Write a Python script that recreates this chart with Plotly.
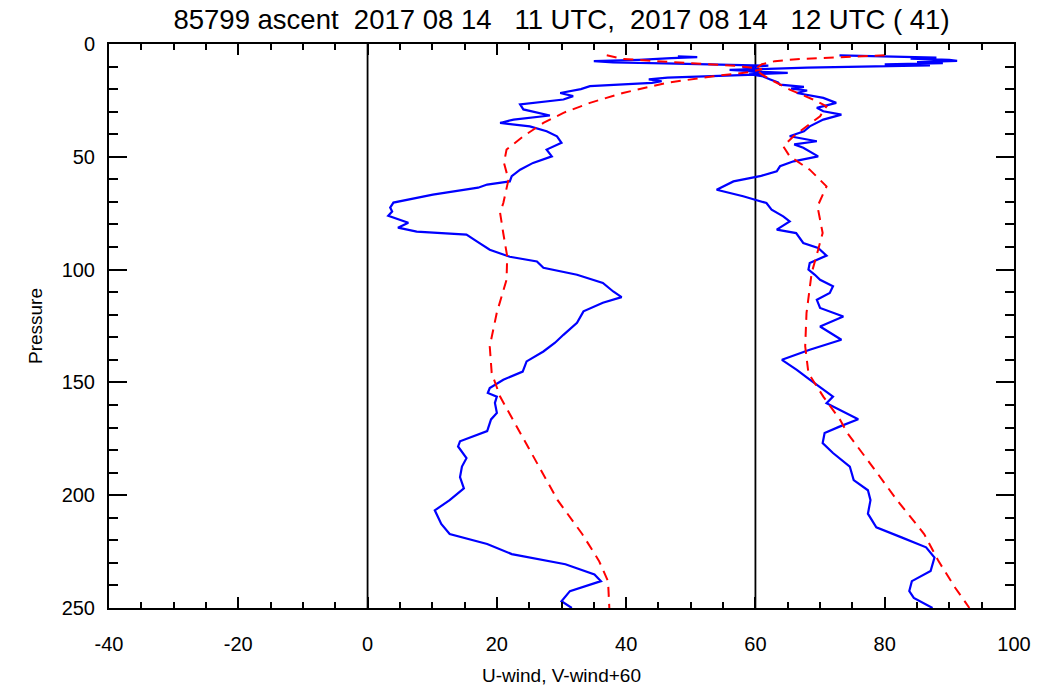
import plotly.graph_objects as go

V_OFFSET = 60
REF_LINES = [0, 60]

TITLE = "85799 ascent\u00a0\u00a02017 08 14\u00a0\u00a0\u00a011 UTC,\u00a0\u00a02017 08 14\u00a0\u00a0\u00a012 UTC ( 41)"
X_TITLE = "U-wind, V-wind+60"
Y_TITLE = "Pressure"

x_tickvals = [-40, -20, 0, 20, 40, 60, 80, 100]
x_ticktext = ["-40", "-20", "0", "20", "40", "60", "80", "100"]
y_tickvals = [0, 50, 100, 150, 200, 250]
y_ticktext = ["0", "50", "100", "150", "200", "250"]

# Observed U-wind (blue, solid)
u_obs_p = [5.5, 5.8, 6.3, 7.0, 7.6, 8.2, 8.6, 9.1, 9.6, 10.4, 11.2, 12.0, 12.8, 13.6, 14.3, 14.9,
           15.7, 16.5, 17.2, 18.7, 20.0, 21.7, 23.1, 24.6, 26.8, 29.0, 31.7, 33.5, 35.0, 36.5, 38.7,
           40.9, 43.8, 46.8, 49.8, 52.7, 55.7, 58.6, 60.9, 62.3, 63.7, 66.8, 70.3, 72.5, 74.3, 76.1,
           79.2, 81.4, 83.2, 84.5, 87.5, 91.2, 94.3, 96.4, 99.2, 102.3, 105.9, 109.7, 112.2, 114.7,
           118.5, 123.6, 128.9, 132.4, 136.3, 140.7, 145.2, 148.8, 152.5, 154.7, 156.3, 159.1, 163.5,
           166.4, 171.6, 176.1, 178.4, 183.6, 187.3, 192.0, 197.0, 202.2, 206.7, 212.7, 217.2, 221.6,
           226.1, 230.6, 235.1, 238.1, 242.5, 247.0, 250.0]
u_obs = [48, 51, 47, 42, 35, 38, 46, 55, 62, 58, 61, 59, 61, 60, 53, 46.4,
         43.5, 45.5, 44, 34.4, 33, 29.8, 31.8, 30.3, 23.6, 24.1, 28.2, 22.6, 20.5, 25.1, 27.7,
         29.3, 30.0, 27.7, 28.5, 25.6, 23.6, 22.3, 22.0, 18.5, 17.1, 10.1, 4.0, 3.5, 3.8, 3.2,
         6.3, 4.7, 7.6, 15.3, 16.9, 18.9, 22.0, 26.2, 27.2, 32.4, 36.4, 38.0, 39.3, 36.4,
         33.4, 32.4, 30.3, 29.0, 27.2, 24.6, 24.0, 21.0, 18.9, 18.6, 20.0, 19.7, 20.0,
         19.1, 18.5, 14.3, 14.0, 15.3, 14.6, 14.3, 14.9, 12.7, 10.4, 11.4, 12.7, 18.5,
         22.3, 30.6, 35.1, 36.1, 31.3, 30.0, 31.6]

# Observed V-wind (blue, solid), plotted with +60 offset
v_obs_p = [5.0, 5.5, 6.0, 6.5, 7.0, 7.5, 8.0, 8.5, 9.0, 9.5, 10.0, 10.5, 11.0, 11.5, 12.2, 12.8,
           13.4, 14.2, 15.7, 17.0, 18.0, 19.0, 19.8, 20.6, 21.7, 23.9, 26.1, 28.3, 29.8, 31.3,
           33.5, 36.5, 38.7, 40.9, 43.1, 44.5, 46.0, 49.8, 52.0, 54.2, 56.4, 58.6, 60.9, 64.6,
           67.5, 70.5, 73.4, 76.4, 78.6, 82.3, 83.8, 88.2, 90.4, 93.8, 97.1, 100.0, 102.3, 104.5,
           107.4, 110.4, 113.4, 117.0, 120.8, 125.2, 131.1, 135.5, 140.0, 144.4, 148.8, 154.7,
           156.3, 159.2, 162.2, 166.3, 169.6, 172.4, 176.9, 181.3, 187.3, 193.3, 197.8, 202.2,
           208.2, 214.2, 218.7, 223.1, 227.6, 233.6, 238.1, 242.5, 245.5, 250.0]
v_obs = [13, 20, 28, 24, 30, 31.2, 25, 29, 20, 27, 16, 8, 2, -4, 0, 5,
         -1, 1, 2.3, 3.5, 3.8, 7.5, 5.5, 8.0, 6.4, 10.5, 12.5, 9.5, 10.5, 13.3,
         10.5, 8.4, 7.5, 5.3, 9.5, 6.0, 7.4, 9.7, 5.9, 3.8, 3.3, 0.7, -3.4, -6.0,
         -1.9, 1.7, 2.5, 4.3, 5.3, 3.3, 6.3, 7.4, 9.7, 11.0, 8.4, 8.2, 9.2, 10.0,
         12.0, 11.5, 9.5, 10.0, 13.6, 10.0, 13.3, 8.4, 4.1, 6.4, 8.4, 11.3,
         12.0, 11.0, 13.1, 15.9, 13.0, 10.7, 10.4, 12.0, 14.6, 15.2, 17.4, 17.8,
         17.4, 18.7, 22.6, 26.4, 27.7, 27.1, 24.2, 23.8, 24.5, 27.4]

# Model U-wind (red, dashed)
u_mod_p = [5.0, 6.6, 8.0, 9.8, 11.2, 12.5, 14.3, 17.2, 21.7, 26.1, 30.5, 35.0, 40.9, 46.8, 52.7,
           60.1, 70.5, 74.8, 84.0, 94.1, 104.5, 119.0, 134.0, 145.8, 156.3, 168.0, 172.4, 187.3,
           202.2, 217.2, 229.1, 238.1, 250.0]
u_mod = [37, 39.5, 47, 57.6, 61, 59, 53.5, 46.3, 39.5, 34.4, 30.3, 27.2, 24.1, 21.5, 21.1,
         21.8, 21.0, 20.5, 21.0, 21.6, 21.5, 20.0, 18.9, 19.2, 20.5, 22.8, 23.6, 26.5,
         29.4, 33.2, 35.8, 37.2, 37.4]

# Model V-wind (red, dashed), plotted with +60 offset
v_mod_p = [5.0, 5.8, 6.6, 7.6, 9.0, 11.0, 13.5, 15.7, 20.2, 24.6, 27.6, 32.0, 36.5, 40.9, 45.3,
           49.8, 55.7, 63.1, 72.0, 83.8, 91.2, 101.5, 119.3, 134.0, 145.9, 156.3, 166.6, 172.4,
           187.3, 202.2, 217.2, 229.1, 241.0, 250.0]
v_mod = [20, 14, 7, 3, 1, 0, 1, 2.3, 5.3, 8.9, 11.0, 10.0, 7.9, 5.9, 4.3,
         5.3, 8.4, 11.0, 9.6, 10.4, 9.7, 8.7, 7.9, 7.7, 8.2, 10.5, 13.1, 14.2,
         18.1, 21.9, 26.1, 28.3, 30.9, 33.1]

FONT = "Liberation Sans, Arial, Helvetica, sans-serif"

fig = go.Figure()
fig.add_trace(go.Scatter(x=u_obs, y=u_obs_p, mode="lines",
                         line=dict(color="#0000FF", width=2.2), showlegend=False))
fig.add_trace(go.Scatter(x=[v + V_OFFSET for v in v_obs], y=v_obs_p, mode="lines",
                         line=dict(color="#0000FF", width=2.2), showlegend=False))
fig.add_trace(go.Scatter(x=u_mod, y=u_mod_p, mode="lines",
                         line=dict(color="#FF0000", width=2, dash="10px,7px"), showlegend=False))
fig.add_trace(go.Scatter(x=[v + V_OFFSET for v in v_mod], y=v_mod_p, mode="lines",
                         line=dict(color="#FF0000", width=2, dash="10px,7px"), showlegend=False))

for xv in REF_LINES:
    fig.add_shape(type="line", xref="x", yref="paper", x0=xv, x1=xv, y0=0, y1=1,
                  line=dict(color="black", width=1.8), layer="below")

axis_common = dict(
    showline=True, linecolor="black", linewidth=2, mirror="ticks",
    ticks="inside", tickcolor="black", tickwidth=2,
    showgrid=False, zeroline=False, automargin=False,
    tickfont=dict(family=FONT, size=20, color="black"),
)

fig.update_layout(
    width=1061, height=686,
    margin=dict(l=109, r=47, t=44, b=78, autoexpand=False),
    paper_bgcolor="white", plot_bgcolor="white",
    font=dict(family=FONT, color="black"),
    title=dict(text=TITLE, x=0.5, xref="paper", y=1 - 19 / 686, yref="container",
               xanchor="center", yanchor="middle",
               font=dict(family=FONT, size=27.5, color="black")),
    xaxis=dict(range=[-40, 100], tickmode="array", tickvals=x_tickvals, ticktext=x_ticktext,
               ticklen=11,
               minor=dict(dtick=5, tick0=0, ticks="inside", ticklen=6, tickwidth=1.5,
                          tickcolor="black"),
               title=dict(text=X_TITLE, font=dict(family=FONT, size=19, color="black"), standoff=18),
               ticklabelstandoff=17,
               **axis_common),
    yaxis=dict(range=[250, 0], tickmode="array", tickvals=y_tickvals, ticktext=y_ticktext,
               ticklen=18,
               minor=dict(dtick=10, tick0=0, ticks="inside", ticklen=9, tickwidth=1.5,
                          tickcolor="black"),
               title=dict(text=Y_TITLE, font=dict(family=FONT, size=19, color="black"), standoff=14),
               ticklabelstandoff=8,
               **axis_common),
)

fig.write_html("out.html")
